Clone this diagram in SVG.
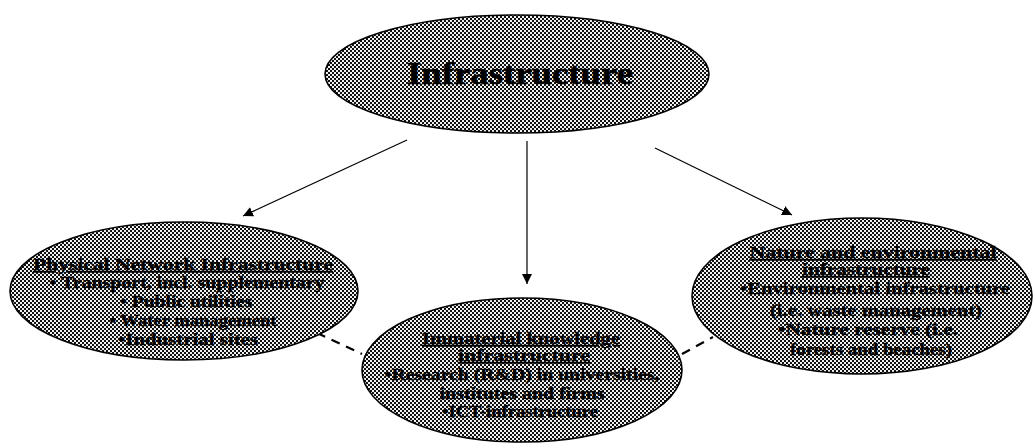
<svg xmlns="http://www.w3.org/2000/svg" width="1035" height="445" viewBox="0 0 1035 445">
  <defs>
    <!-- halftone checker used as the ellipse fill -->
    <pattern id="dots" width="4" height="4" patternUnits="userSpaceOnUse">
      <rect width="4" height="4" fill="#f0f0f0"/>
      <rect x="0" y="0" width="2" height="2" fill="#111"/>
      <rect x="2" y="2" width="2" height="2" fill="#111"/>
    </pattern>
    <marker id="head" viewBox="0 0 10 10" refX="10" refY="5" markerWidth="10" markerHeight="10" markerUnits="userSpaceOnUse" orient="auto">
      <path d="M0,0 L10,5 L0,10 z" fill="#000"/>
    </marker>
  </defs>
  <style>
    .node { fill: url(#dots); stroke: #000; stroke-width: 1.6; }
    .arrow { stroke: #000; stroke-width: 1.2; fill: none; marker-end: url(#head); }
    .dash { stroke: #000; stroke-width: 2.2; fill: none; stroke-dasharray: 9 7; }
    text { font-family: "Liberation Serif", "Times New Roman", serif; font-weight: bold; fill: #000; stroke: #000; stroke-width: 0.3; text-anchor: middle; }
    .t { font-size: 16px; }
    .title { font-size: 32px; stroke-width: 0.6; }
    .u { text-decoration: underline; }
  </style>

  <rect width="1035" height="445" fill="#fff"/>

  <g id="connectors">
    <line class="arrow" x1="407" y1="140" x2="243" y2="216"/>
    <line class="arrow" x1="527" y1="141" x2="527" y2="284"/>
    <line class="arrow" x1="655" y1="148" x2="792" y2="215"/>
    <line class="dash" x1="317" y1="333" x2="362" y2="354"/>
    <line class="dash" x1="682" y1="354" x2="713" y2="337"/>
  </g>

  <g id="infrastructure">
    <ellipse class="node" cx="517" cy="74" rx="192" ry="59"/>
    <text class="title" x="520" y="84" textLength="226" lengthAdjust="spacingAndGlyphs">Infrastructure</text>
  </g>

  <g id="physical-network">
    <ellipse class="node" cx="184" cy="291" rx="174" ry="69"/>
    <text class="t u" x="183" y="270" textLength="300" lengthAdjust="spacingAndGlyphs">Physical Network Infrastructure</text>
    <text class="t" x="187" y="288" textLength="275" lengthAdjust="spacingAndGlyphs">• Transport, incl. supplementary</text>
    <text class="t" x="186" y="307" textLength="132" lengthAdjust="spacingAndGlyphs">• Public utilities</text>
    <text class="t" x="193" y="326" textLength="167" lengthAdjust="spacingAndGlyphs">• Water management</text>
    <text class="t" x="188" y="345" textLength="140" lengthAdjust="spacingAndGlyphs">•Industrial sites</text>
  </g>

  <g id="immaterial-knowledge">
    <ellipse class="node" cx="522" cy="370" rx="160" ry="72"/>
    <text class="t u" x="521" y="344" textLength="198" lengthAdjust="spacingAndGlyphs">Immaterial knowledge</text>
    <text class="t u" x="524" y="361" textLength="132" lengthAdjust="spacingAndGlyphs">infrastructure</text>
    <text class="t" x="522" y="380" textLength="275" lengthAdjust="spacingAndGlyphs">•Research (R&amp;D) in universities,</text>
    <text class="t" x="522" y="399" textLength="165" lengthAdjust="spacingAndGlyphs">institutes and firms</text>
    <text class="t" x="520" y="417" textLength="156" lengthAdjust="spacingAndGlyphs">•ICT-infrastructure</text>
  </g>

  <g id="nature-environmental">
    <ellipse class="node" cx="862" cy="296" rx="170" ry="78"/>
    <text class="t u" x="873" y="258" textLength="247" lengthAdjust="spacingAndGlyphs">Nature and environmental</text>
    <text class="t u" x="866" y="275" textLength="128" lengthAdjust="spacingAndGlyphs">infrastructure</text>
    <text class="t" x="875" y="294" textLength="270" lengthAdjust="spacingAndGlyphs">•Environmental infrastructure</text>
    <text class="t" x="876" y="316" textLength="212" lengthAdjust="spacingAndGlyphs">(i.e. waste management)</text>
    <text class="t" x="868" y="335" textLength="180" lengthAdjust="spacingAndGlyphs">•Nature reserve (i.e.</text>
    <text class="t" x="871" y="355" textLength="162" lengthAdjust="spacingAndGlyphs">forests and beaches)</text>
  </g>
</svg>
